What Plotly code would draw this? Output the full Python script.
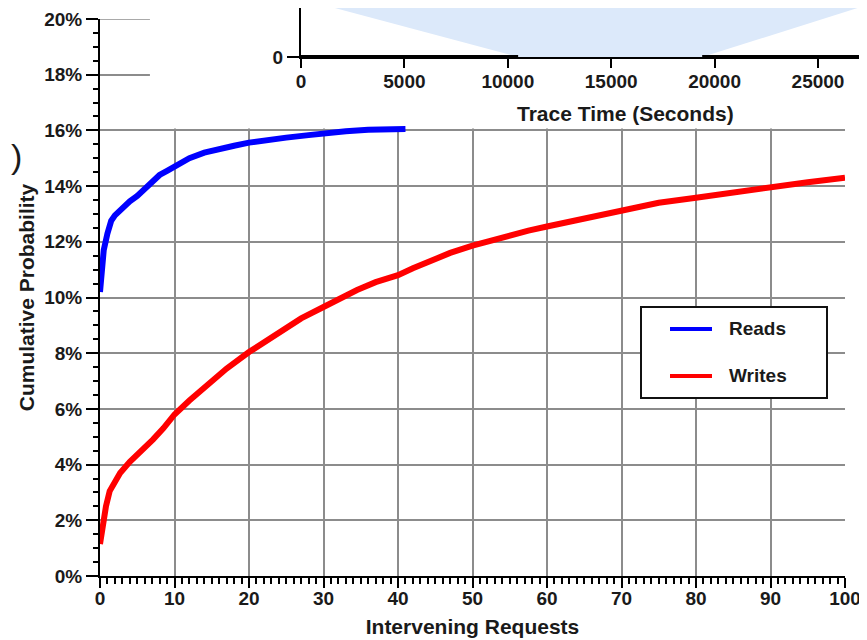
import plotly.graph_objects as go

# ---------------- data ----------------
reads_x = [0, 0.2, 0.5, 1, 1.5, 2, 2.55, 3, 4, 5, 6, 7, 8, 9, 10, 12, 14, 16, 18, 20,
           22, 25, 28, 30, 33, 36, 41]
reads_y = [10.2, 10.9, 11.7, 12.3, 12.75, 12.95, 13.1, 13.2, 13.45, 13.65, 13.9, 14.15,
           14.4, 14.55, 14.7, 15.0, 15.2, 15.35, 15.45, 15.56, 15.65, 15.74, 15.83,
           15.9, 15.97, 16.02, 16.05]

writes_x = [0, 0.4, 0.8, 1.3, 2, 2.7, 4, 5.4, 7.1, 8.5, 10, 12, 14.7, 17, 20, 22, 24.3,
            27, 30, 32, 34.5, 37, 40, 42, 44.7, 47, 50, 52.5, 55, 57.5, 60, 65, 70, 75,
            80, 85, 90, 95, 100]
writes_y = [1.15, 1.9, 2.5, 3.05, 3.4, 3.7, 4.1, 4.45, 4.9, 5.3, 5.8, 6.3, 6.9, 7.45,
            8.04, 8.4, 8.82, 9.25, 9.66, 9.95, 10.27, 10.55, 10.8, 11.05, 11.35, 11.6,
            11.86, 12.05, 12.2, 12.4, 12.55, 12.82, 13.13, 13.4, 13.58, 13.78, 13.98,
            14.14, 14.3]

x_ticks = [0, 10, 20, 30, 40, 50, 60, 70, 80, 90, 100]
y_ticks = [0, 2, 4, 6, 8, 10, 12, 14, 16, 18, 20]
y_tick_labels = [f"{v}%" for v in y_ticks]

series_names = ["Reads", "Writes"]
series_colors = ["#0000ff", "#ff0000"]

# inset (top, partly cut off in the source picture)
inset_band_t = [190, 10500, 19400, 28140]
inset_band_v = [1, 0, 0, 1]
inset_zero_t = [0, 10500, None, 19400, 27370]
inset_zero_v = [0, 0, None, 0, 0]
inset_ticks = [0, 5000, 10000, 15000, 20000, 25000]
inset_tick_labels = [str(v) for v in inset_ticks]

# ---------------- figure ----------------
FONT = "Liberation Sans, Arial, Helvetica, sans-serif"
TXT = "#1a1a1a"
GRID = "#8c8c8c"

OFF = 8                      # page body margin of the html page
W, H = 867 - OFF, 640 - OFF
L, R, T, B = 92, 0, 0, 64
pw, ph = W - L - R, H - T - B

def px_x(p):  # window pixel -> paper x
    return (p - OFF - L) / pw

def px_y(p):  # window pixel -> paper y
    return (H - B - (p - OFF)) / ph

fig = go.Figure()

for nm, xs, ys, col in zip(series_names, [reads_x, writes_x], [reads_y, writes_y],
                           series_colors):
    fig.add_trace(go.Scatter(x=xs, y=ys, mode="lines", name=nm,
                             line=dict(color=col, width=6)))

fig.add_trace(go.Scatter(x=inset_band_t, y=inset_band_v, mode="none", fill="toself",
                         fillcolor="#dce9fa", xaxis="x2", yaxis="y2", showlegend=False,
                         hoverinfo="skip"))
fig.add_trace(go.Scatter(x=inset_zero_t, y=inset_zero_v, mode="lines",
                         line=dict(color="black", width=4), xaxis="x2", yaxis="y2",
                         showlegend=False, connectgaps=False))

tickfont = dict(family=FONT, size=19, color=TXT, weight="bold")
titlefont = dict(family=FONT, size=21, color=TXT, weight="bold")

# legend box drawn to match the original's proportions
leg_shapes = [dict(type="rect", xref="paper", yref="paper", layer="above",
                   x0=px_x(641), x1=px_x(827), y0=px_y(398), y1=px_y(307),
                   fillcolor="white", line=dict(color="#111", width=2))]
leg_ann = []
for i, (nm, col) in enumerate(zip(series_names, series_colors)):
    yy = 329 + 47 * i
    leg_shapes.append(dict(type="line", xref="paper", yref="paper", layer="above",
                           x0=px_x(670), x1=px_x(712), y0=px_y(yy), y1=px_y(yy),
                           line=dict(color=col, width=4)))
    leg_ann.append(dict(text=nm, xref="paper", yref="paper", x=px_x(727),
                        y=px_y(yy - 1), xanchor="left", yanchor="middle",
                        showarrow=False,
                        font=dict(family=FONT, size=19, color=TXT, weight="bold")))

fig.update_layout(
    width=W, height=H,
    margin=dict(l=L, r=R, t=T, b=B, autoexpand=False),
    paper_bgcolor="white", plot_bgcolor="white",
    showlegend=False,
    xaxis=dict(domain=[0, px_x(845)], range=[0, 100], tickvals=x_ticks,
               automargin=False,
               showline=True, linecolor="black", linewidth=2,
               ticks="outside", ticklen=10, tickwidth=2, tickcolor="black",
               ticklabelstandoff=-6,
               minor=dict(dtick=1, ticks="outside", ticklen=6, tickwidth=1.5,
                          tickcolor="black", showgrid=False),
               showgrid=True, gridcolor=GRID, gridwidth=1.5, zeroline=False,
               tickfont=tickfont,
               title=dict(text="Intervening Requests", font=titlefont, standoff=12)),
    yaxis=dict(domain=[0, px_y(19)], range=[0, 20], tickvals=y_ticks,
               ticktext=y_tick_labels, automargin=False,
               showline=True, linecolor="black", linewidth=2,
               ticks="outside", ticklen=12, tickwidth=2, tickcolor="black",
               minor=dict(dtick=0.5, ticks="outside", ticklen=5, tickwidth=1.5,
                          tickcolor="black", showgrid=False),
               showgrid=True, gridcolor=GRID, gridwidth=1.5, zeroline=False,
               tickfont=tickfont,
               title=dict(text="Cumulative Probability", font=titlefont, standoff=4)),
    xaxis2=dict(domain=[px_x(301), 1], range=[0, 27370], anchor="y2",
                automargin=False,
                tickvals=inset_ticks, ticktext=inset_tick_labels,
                showline=True, linecolor="black", linewidth=2,
                ticks="outside", ticklen=9, tickwidth=2, tickcolor="black",
                ticklabelstandoff=-3,
                showgrid=False, zeroline=False, tickfont=tickfont),
    yaxis2=dict(domain=[px_y(57), 1], range=[0, 1 - OFF / 57], anchor="x2",
                automargin=False,
                tickvals=[0], ticktext=["0"], showline=True, linecolor="black",
                linewidth=2, ticks="outside", ticklen=12, tickwidth=2,
                tickcolor="black", showgrid=False, zeroline=False, tickfont=tickfont),
    shapes=[
        # white panel of the inset hides the main grid behind it
        dict(type="rect", xref="x", yref="y", layer="between",
             x0=6.7, x1=101, y0=16.07, y1=20.5,
             fillcolor="white", line=dict(width=0)),
        # top grid line (at the range edge) up to the inset panel
        dict(type="line", xref="x", yref="y", layer="between",
             x0=0, x1=6.7, y0=y_ticks[-1], y1=y_ticks[-1],
             line=dict(color=GRID, width=1.5)),
    ] + leg_shapes,
    annotations=[
        dict(text="Trace Time (Seconds)", xref="paper", yref="paper",
             x=px_x(625), y=px_y(113), xanchor="center", yanchor="middle",
             showarrow=False, font=titlefont),
        dict(text=")", xref="paper", yref="paper", x=px_x(9), y=px_y(156),
             xanchor="left", yanchor="middle", showarrow=False,
             font=dict(family=FONT, size=34, color=TXT)),
    ] + leg_ann,
)

fig.write_html("out.html")
